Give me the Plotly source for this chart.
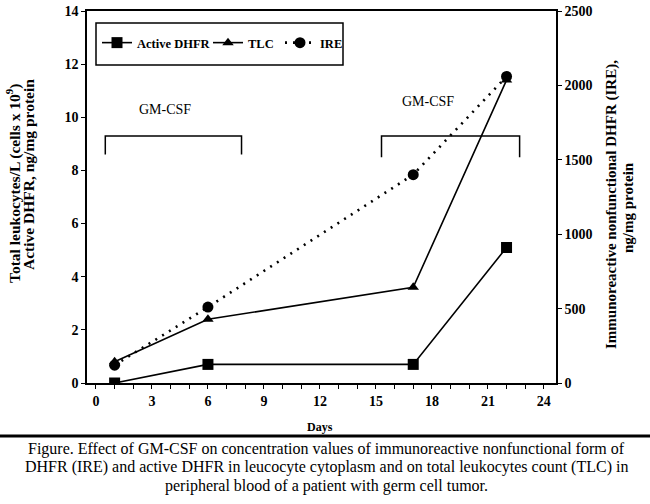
import plotly.graph_objects as go

days = [1, 6, 17, 22]
active_dhfr = [0.0, 0.7, 0.7, 5.1]
tlc = [0.8, 2.4, 3.6, 11.4]
ire = [120, 510, 1400, 2060]

x_ticks = [0, 3, 6, 9, 12, 15, 18, 21, 24]
y_left_ticks = [0, 2, 4, 6, 8, 10, 12, 14]
y_right_ticks = [0, 500, 1000, 1500, 2000, 2500]

FONT = "Liberation Serif"
W, H = 650, 504
L, R, T, B = 87, 94, 11, 121
PW, PH = W - L - R, H - T - B
X_RANGE = [-0.48, 24.65]

def px(xp):
    return (xp - L) / PW

def py(yp):
    return (H - B - yp) / PH

fig = go.Figure()
fig.add_trace(go.Scatter(x=days, y=active_dhfr, name="Active DHFR", mode="lines+markers",
                         legend="legend",
                         line=dict(color="black", width=1.6),
                         marker=dict(symbol="square", size=11, color="black")))
fig.add_trace(go.Scatter(x=days, y=tlc, name="TLC", mode="lines+markers",
                         legend="legend2",
                         line=dict(color="black", width=1.6),
                         marker=dict(symbol="triangle-up", size=10, color="black")))
fig.add_trace(go.Scatter(x=days, y=ire, name="IRE", mode="lines+markers", yaxis="y2",
                         legend="legend3",
                         line=dict(color="black", width=2.6, dash="2px,6px"),
                         marker=dict(symbol="circle", size=11, color="black")))

axfont = dict(family=FONT, size=14, color="black", weight="bold")
legfont = dict(family=FONT, size=12.5, color="black", weight="bold")

def leg(xp):
    return dict(orientation="h", x=px(xp), y=py(43), xanchor="left", yanchor="middle",
                font=legfont, bgcolor="rgba(0,0,0,0)", borderwidth=0, itemwidth=30)

fig.update_layout(
    width=W, height=H,
    margin=dict(l=L, r=R, t=T, b=B, autoexpand=False),
    paper_bgcolor="white", plot_bgcolor="white",
    showlegend=True,
    legend=leg(97), legend2=leg(208), legend3=leg(280),
    xaxis=dict(range=X_RANGE, tickvals=x_ticks, ticks="outside", ticklen=4,
               tickcolor="black", showline=True, linecolor="black", linewidth=1.5,
               mirror=True, showgrid=False, zeroline=False, tickfont=axfont,
               minor=dict(dtick=1, ticks="outside", ticklen=4, tickcolor="black", showgrid=False)),
    xaxis2=dict(range=X_RANGE, overlaying="x", anchor="y", side="bottom", tickvals=x_ticks,
                showticklabels=False, ticks="inside", ticklen=4, tickcolor="black",
                showline=False, showgrid=False, zeroline=False,
                minor=dict(dtick=1, ticks="inside", ticklen=4, tickcolor="black", showgrid=False)),
    yaxis=dict(range=[0, 14], tickvals=y_left_ticks, ticks="outside", ticklen=4,
               tickcolor="black", showline=True, linecolor="black", linewidth=1.5,
               showgrid=False, zeroline=False, tickfont=axfont),
    yaxis3=dict(range=[0, 14], overlaying="y", anchor="x", side="left", tickvals=y_left_ticks,
                showticklabels=False, ticks="inside", ticklen=4, tickcolor="black",
                showline=False, showgrid=False, zeroline=False),
    yaxis2=dict(range=[0, 2500], tickvals=y_right_ticks, ticks="outside", ticklen=4,
                tickcolor="black", showline=True, linecolor="black", linewidth=1.5,
                overlaying="y", side="right", showgrid=False, zeroline=False, tickfont=axfont),
    yaxis4=dict(range=[0, 2500], overlaying="y", anchor="x", side="right", tickvals=y_right_ticks,
                showticklabels=False, ticks="inside", ticklen=4, tickcolor="black",
                showline=False, showgrid=False, zeroline=False),
)

shapes = []
shapes.append(dict(type="rect", xref="paper", yref="paper", x0=px(96), x1=px(343),
                   y0=py(65), y1=py(23), line=dict(color="black", width=1.5)))
for x0, x1, ytop, ybot in [(0.5, 7.8, 9.3, 8.6), (15.3, 22.7, 9.3, 8.5)]:
    shapes.append(dict(type="path", xref="x", yref="y",
                       path=f"M {x0},{ybot} L {x0},{ytop} L {x1},{ytop} L {x1},{ybot}",
                       line=dict(color="black", width=1.5)))
shapes.append(dict(type="line", xref="paper", yref="paper", x0=px(0), x1=px(650),
                   y0=py(436), y1=py(436), line=dict(color="black", width=3)))
fig.update_layout(shapes=shapes)

def note(text, xp, yp, size, bold=False, angle=0):
    f = dict(family=FONT, size=size, color="black")
    if bold:
        f["weight"] = "bold"
    return dict(text=text, x=px(xp), y=py(yp), xref="paper", yref="paper", showarrow=False,
                xanchor="center", yanchor="middle", textangle=angle, font=f)

ann = []
ann.append(dict(text="GM-CSF", x=3.7, y=10.3, xref="x", yref="y", showarrow=False,
                xanchor="center", yanchor="middle", font=dict(family=FONT, size=14, color="black")))
ann.append(dict(text="GM-CSF", x=17.8, y=10.6, xref="x", yref="y", showarrow=False,
                xanchor="center", yanchor="middle", font=dict(family=FONT, size=14, color="black")))
ann.append(note("Days", 320, 427, 12, bold=True))
ann.append(note("Total leukocytes/L (cells x 10<sup>9</sup>)", 13, 184, 15.5, bold=True, angle=-90))
ann.append(note("Active DHFR, ng/mg protein", 28, 175, 15.5, bold=True, angle=-90))
ann.append(note("Immunoreactive nonfunctional DHFR (IRE),", 611, 205, 15, bold=True, angle=-90))
ann.append(note("ng/mg protein", 628, 208, 15, bold=True, angle=-90))
caption = [
    "Figure. Effect of GM-CSF on concentration values of immunoreactive nonfunctional form of",
    "DHFR (IRE) and active DHFR in leucocyte cytoplasm and on total leukocytes count (TLC) in",
    "peripheral blood of a patient with germ cell tumor.",
]
for i, line in enumerate(caption):
    ann.append(note(line, 326, 449 + 18.3 * i, 16))
fig.update_layout(annotations=ann)

fig.write_html("out.html", config={"displayModeBar": False},
               post_script="document.body.style.margin='0';")
